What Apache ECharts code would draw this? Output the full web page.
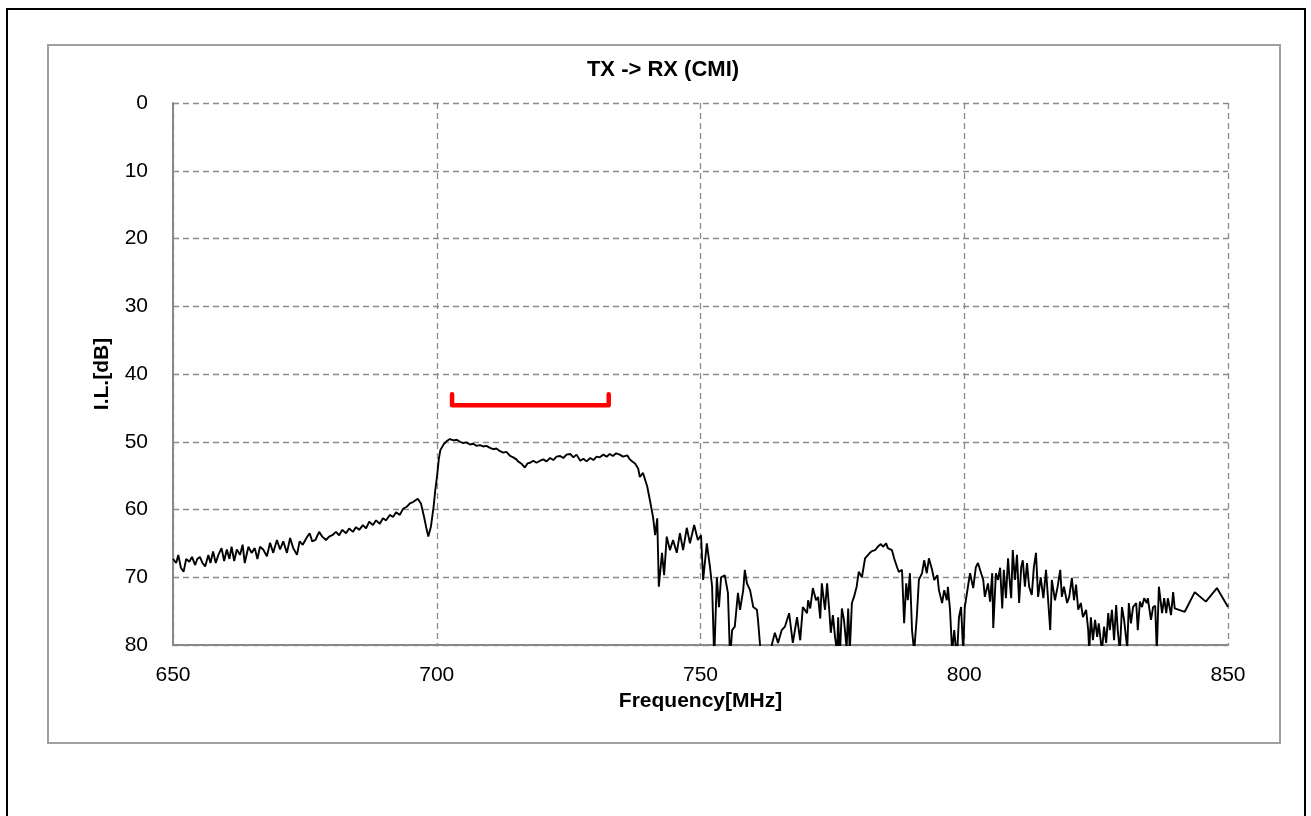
<!DOCTYPE html>
<html>
<head>
<meta charset="utf-8">
<script src="https://cdn.jsdelivr.net/npm/echarts@6/dist/echarts.min.js"></script>
<style>
html,body{margin:0;padding:0;background:#fff;}
#chart{width:1311px;height:816px;}
</style>
</head>
<body>
<div id="chart"></div>
<script>
// ---- data ----
const xTicks = [650, 700, 750, 800, 850];
const yTicks = [0, 10, 20, 30, 40, 50, 60, 70, 80];

const freqMHz = [
650.0,650.6,651.0,651.5,652.0,652.5,653.1,653.6,654.2,654.6,655.1,655.6,656.1,656.7,657.1,657.6,658.1,658.6,659.2,659.7,
660.2,660.7,661.1,661.6,662.1,662.7,663.2,663.6,664.3,664.9,665.5,666.0,666.5,667.1,667.8,668.4,669.0,669.7,670.3,670.9,
671.6,672.2,672.8,673.5,674.0,674.6,675.3,675.9,676.4,677.0,677.7,678.3,679.0,679.6,680.2,680.9,681.5,682.1,682.8,683.4,
684.1,684.7,685.3,686.0,686.6,687.2,687.9,688.5,689.2,689.8,690.4,691.1,691.7,692.3,693.0,693.6,694.3,694.9,695.5,696.4,
697.0,697.6,698.1,698.4,698.9,699.4,699.7,700.1,700.4,700.7,701.3,701.9,702.5,703.2,703.8,704.4,705.0,705.6,706.3,706.9,
707.5,708.2,708.8,709.4,710.1,710.7,711.3,712.0,712.6,713.2,713.9,714.5,715.1,715.4,716.0,716.7,717.2,717.7,718.3,718.9,
719.6,720.2,720.8,721.5,722.1,722.7,723.4,724.0,724.6,725.3,725.9,726.5,727.2,727.8,728.4,729.1,729.7,730.3,730.9,731.6,
732.2,732.8,733.4,734.0,734.7,735.3,736.1,736.6,737.2,737.6,738.2,738.5,739.1,739.5,739.9,740.4,741.0,741.4,741.8,742.1,
742.7,743.1,743.6,744.2,744.8,745.5,746.1,746.7,747.4,748.0,748.8,749.5,750.1,750.5,751.2,751.8,752.2,752.6,753.1,753.5,
753.9,754.6,755.2,755.6,756.0,756.5,757.1,757.5,758.1,758.4,758.8,759.4,760.0,760.7,760.9,761.5,762.5,763.6,764.1,764.7,
765.4,766.0,766.8,767.5,768.3,768.9,769.4,770.2,770.4,770.8,771.3,771.9,772.3,772.7,773.0,773.6,774.0,774.4,774.7,775.1,
775.5,775.9,776.1,776.4,776.8,777.2,777.7,778.0,778.3,778.7,779.1,779.6,780.0,780.6,781.2,782.1,782.6,783.1,783.6,784.2,
784.6,785.2,785.5,786.3,786.7,787.3,787.6,788.2,788.6,789.0,789.3,789.7,790.1,790.5,791.0,791.4,792.0,792.4,792.9,793.3,
793.9,794.3,794.9,795.2,795.8,796.2,796.7,796.9,797.3,797.7,798.1,798.6,799.0,799.4,799.8,800.1,800.7,801.1,801.7,802.2,
802.6,803.2,803.6,803.9,804.5,804.9,805.3,805.5,806.0,806.4,806.8,807.2,807.5,807.9,808.3,808.7,808.9,809.2,809.6,810.0,
810.4,810.8,811.1,811.5,811.9,812.3,812.8,813.2,813.6,814.0,814.5,815.0,815.5,815.9,816.3,816.6,817.2,817.7,818.2,818.5,
818.9,819.5,819.9,820.4,820.8,821.2,821.6,822.1,822.5,823.1,823.5,823.7,824.0,824.4,824.8,825.2,825.5,826.1,826.5,826.9,
827.3,827.6,828.0,828.4,828.8,829.1,829.5,829.9,830.3,830.9,831.2,831.6,832.0,832.6,832.9,833.3,833.7,834.1,834.6,834.8,
835.4,835.8,836.2,836.5,836.9,837.5,837.9,838.3,838.6,839.2,839.6,839.9,841.8,843.7,845.8,847.9,850.0
];

const insertionLossDb = [
67.3,67.9,66.7,68.6,69.2,67.3,67.7,67.0,68.2,67.3,67.0,67.9,68.4,66.7,67.9,66.2,67.9,66.7,65.7,67.6,
65.9,67.3,65.5,67.6,65.9,66.7,65.2,67.9,65.5,66.4,65.7,67.3,65.5,65.9,66.9,64.9,66.4,64.5,65.9,64.7,
66.4,64.2,65.7,66.7,64.7,65.2,64.2,63.5,64.7,64.5,63.3,64.0,64.5,64.0,63.8,63.3,63.8,63.0,63.5,62.8,
63.3,62.6,63.0,62.3,62.8,61.8,62.3,61.6,62.1,61.3,61.6,60.8,61.1,60.4,60.8,59.9,59.6,59.1,58.9,58.4,
59.1,61.1,63.0,64.0,62.5,59.6,57.3,54.8,52.5,51.2,50.4,49.9,49.6,49.8,49.7,50.0,50.2,50.1,50.4,50.3,
50.6,50.5,50.7,50.6,50.9,51.1,51.0,51.4,51.6,51.5,52.1,52.3,52.6,52.9,53.2,53.8,53.2,53.1,52.8,53.1,
52.8,52.6,52.9,52.4,52.7,52.2,52.1,52.4,51.9,51.8,52.3,51.9,52.8,52.5,52.9,52.4,52.7,52.2,52.3,51.9,
52.2,51.8,52.1,51.7,51.9,52.2,52.0,52.6,53.0,53.2,54.0,55.2,54.6,55.6,56.6,58.6,61.1,63.8,61.3,71.4,
66.4,69.7,64.0,66.0,64.5,66.4,63.5,66.0,62.7,65.0,62.3,64.5,63.8,70.4,65.0,68.5,71.4,82.0,70.0,74.4,
70.0,69.7,72.3,82.0,77.8,77.3,72.3,74.8,71.9,68.9,70.9,71.9,74.4,74.8,76.3,82.0,84.0,79.7,78.2,79.7,
77.8,77.3,75.3,79.7,75.9,79.3,74.4,75.3,73.4,74.6,71.6,73.4,72.9,76.1,70.9,74.8,70.9,74.8,78.2,75.6,
78.8,81.0,75.9,82.0,74.6,76.3,80.5,74.6,81.0,73.8,72.9,71.4,69.2,70.0,67.2,66.4,66.1,66.0,65.5,65.1,
65.5,65.0,65.7,66.0,67.2,68.6,69.2,68.9,76.8,70.9,73.4,69.4,77.8,81.0,75.9,70.4,69.4,67.5,69.4,67.2,
68.9,70.4,69.7,71.9,73.8,71.9,73.4,71.4,74.8,81.0,77.8,82.0,75.9,74.4,81.0,74.4,71.4,69.4,71.6,68.5,
67.9,69.4,70.4,72.9,70.9,73.6,69.4,77.5,69.4,70.4,68.6,74.6,68.9,73.1,67.2,71.4,73.1,66.0,70.4,66.7,
73.8,68.5,67.5,71.4,67.9,71.4,72.6,68.5,66.4,72.9,70.0,73.1,68.9,73.4,77.8,70.4,73.4,71.4,68.9,72.9,
71.4,73.8,72.9,70.1,73.4,71.1,74.8,73.8,75.9,74.8,77.8,81.0,75.9,79.3,76.3,78.8,76.8,81.0,77.3,79.7,
75.3,77.8,74.8,79.3,74.1,77.8,81.0,74.4,76.3,80.5,73.8,76.8,74.4,73.8,77.8,73.6,74.4,73.1,73.8,73.1,
76.3,74.4,74.2,81.0,71.4,75.3,73.1,75.3,73.1,75.6,72.2,74.6,75.1,72.2,73.6,71.6,74.4
];

// red band marker (pass band bracket)
const bandFreq = [702.9, 702.9, 732.6, 732.6];
const bandLevel = [43.0, 44.6, 44.6, 43.0];

const titleText = 'TX -> RX (CMI)';
const xName = 'Frequency[MHz]';
const yName = 'I.L.[dB]';

// ---- chart ----
const traceData = freqMHz.map((f, i) => [f, insertionLossDb[i]]);
const bandData = bandFreq.map((f, i) => [f, bandLevel[i]]);

const FONT = '"Liberation Sans", Arial, sans-serif';
const chart = echarts.init(document.getElementById('chart'), null, {renderer: 'canvas'});

chart.setOption({
  animation: false,
  backgroundColor: '#ffffff',
  textStyle: {fontFamily: FONT},
  graphic: [
    {type: 'rect', shape: {x: 7, y: 9, width: 1298, height: 830}, style: {fill: 'none', stroke: '#000', lineWidth: 2}, silent: true, z: 0},
    {type: 'rect', shape: {x: 48, y: 45, width: 1232, height: 698}, style: {fill: 'none', stroke: '#a0a0a0', lineWidth: 2}, silent: true, z: 0},
    {type: 'text', x: 663, y: 70, style: {text: titleText, fill: '#000', font: 'bold 22px ' + FONT, textAlign: 'center', textVerticalAlign: 'middle'}, z: 10}
  ],
  grid: {left: 173, top: 103, right: 83, bottom: 171, containLabel: false},
  xAxis: {
    type: 'value', min: xTicks[0], max: xTicks[xTicks.length - 1], interval: 50,
    axisLine: {show: true, onZero: false, lineStyle: {color: '#898989', width: 2}},
    axisTick: {show: false},
    axisLabel: {color: '#000', fontSize: 21, margin: 20, fontFamily: FONT},
    splitLine: {show: true, lineStyle: {color: '#8c8c8c', type: [6, 4], width: 1.3}},
    name: xName, nameLocation: 'middle', nameGap: 35,
    nameTextStyle: {color: '#000', fontSize: 21, fontWeight: 'bold', fontFamily: FONT}
  },
  yAxis: {
    type: 'value', inverse: true, min: yTicks[0], max: yTicks[yTicks.length - 1], interval: 10,
    axisLine: {show: true, onZero: false, lineStyle: {color: '#898989', width: 2}},
    axisTick: {show: false},
    axisLabel: {color: '#000', fontSize: 21, margin: 25, fontFamily: FONT},
    splitLine: {show: true, lineStyle: {color: '#8c8c8c', type: [6, 4], width: 1.3}},
    name: yName, nameLocation: 'middle', nameGap: 60, nameRotate: 90,
    nameTextStyle: {color: '#000', fontSize: 21, fontWeight: 'bold', fontFamily: FONT}
  },
  series: [
    {
      type: 'line', data: traceData, showSymbol: false, symbol: 'none', clip: true,
      lineStyle: {color: '#000', width: 1.9}, z: 3
    },
    {
      type: 'line', data: bandData, showSymbol: false, symbol: 'none', clip: true,
      lineStyle: {color: '#ff0000', width: 4.5, cap: 'round', join: 'round'}, z: 4
    }
  ]
});
</script>
</body>
</html>
